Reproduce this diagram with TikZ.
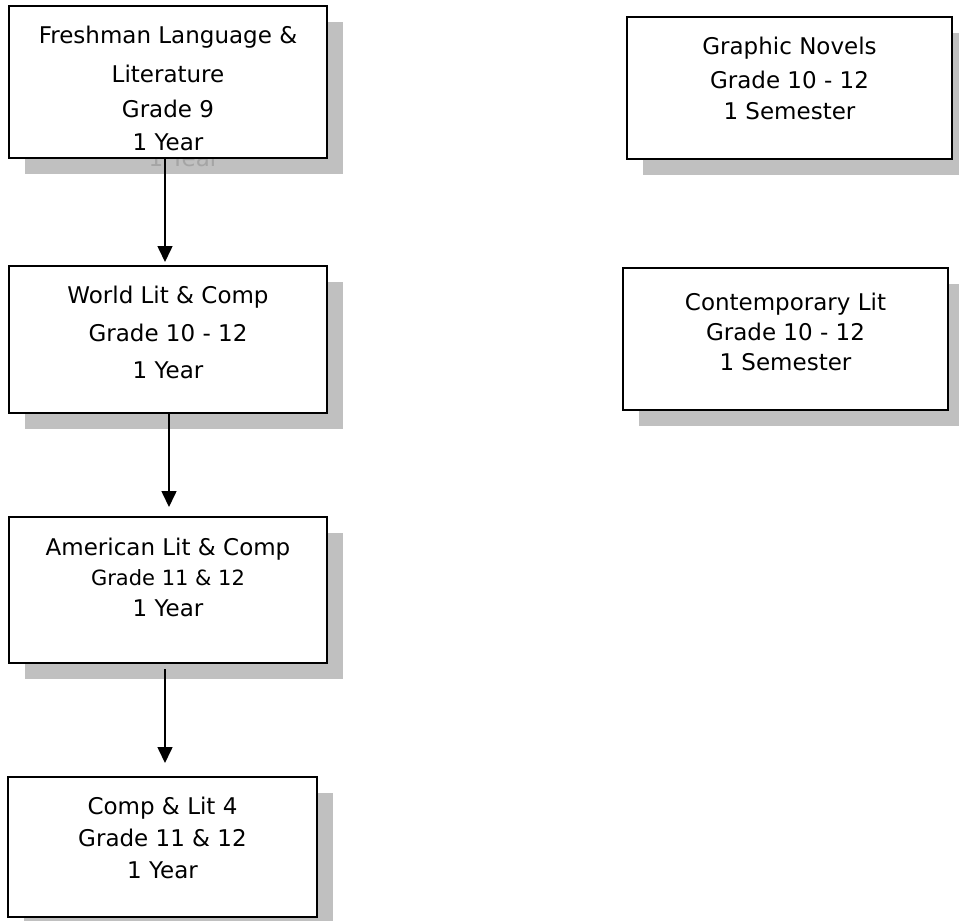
\documentclass[tikz,border=0pt]{standalone}
\usepackage{fontspec}
\setmainfont{DejaVu Sans}
\usetikzlibrary{arrows.meta,backgrounds}
\definecolor{shadowc}{RGB}{192,192,192}
\definecolor{ghostc}{RGB}{165,165,165}
\tikzset{
  course/.style={draw=black, line width=1.8pt, fill=white, inner sep=0pt, outer sep=0pt},
  ctext/.style={align=center, anchor=base, inner sep=0pt, font=\fontsize{23}{32}\selectfont},
  flow/.style={line width=1.6pt, -{Triangle[length=16pt,width=15pt]}},
}
\begin{document}
\begin{tikzpicture}[x=1pt,y=-1pt]
\useasboundingbox (0,0) rectangle (959,921);
\clip (0,0) rectangle (959,921);
% boxes
\node[course, minimum width=318pt, minimum height=152pt] (b1) at (168,82) {};
\node[course, minimum width=318pt, minimum height=147pt] (b2) at (168,339.5) {};
\node[course, minimum width=318pt, minimum height=146pt] (b3) at (168,590) {};
\node[course, minimum width=309pt, minimum height=140pt] (b4) at (162.5,847) {};
\node[course, minimum width=325pt, minimum height=142pt] (b5) at (789.5,88) {};
\node[course, minimum width=325pt, minimum height=142pt] (b6) at (785.5,339) {};
% shadows
\begin{pgfonlayer}{background}
  \foreach \n in {b1,b2,b3,b4,b5,b6}
    \fill[shadowc] ([shift={(15.5,15.5)}]\n.south west) rectangle ([shift={(15.5,15.5)}]\n.north east);
  \node[ctext, text=ghostc] (g1) at (184,166) {1 Year};
\end{pgfonlayer}
% texts (anchor base = baseline of the last line)
\node[ctext] (t1) at (168,150) {Freshman Language \&\\[7.4pt] Literature\\[2.6pt] Grade 9\\[0.7pt] 1 Year};
\node[ctext] (t2) at (168,378.3) {World Lit \& Comp\\[6.4pt] Grade 10 - 12\\[4.6pt] 1 Year};
\node[ctext] (t3) at (168,616) {American Lit \& Comp\\[-1.3pt] {\fontsize{21}{32}\selectfont Grade 11 \& 12}\\[-1.7pt] 1 Year};
\node[ctext] (t4) at (162.5,878.3) {Comp \& Lit 4\\[-0.3pt] Grade 11 \& 12\\[-0.3pt] 1 Year};
\node[ctext] (t5) at (789.5,119.3) {Graphic Novels\\[2pt] Grade 10 - 12\\[-1pt] 1 Semester};
\node[ctext] (t6) at (785.5,370) {Contemporary Lit\\[-2pt] Grade 10 - 12\\[-2pt] 1 Semester};
% arrows
\draw[flow, shorten >=4pt] ([xshift=-3pt]b1.south) -- ([xshift=-3pt]b1.south |- b2.north);
\draw[flow, shorten >=10pt] ([xshift=1pt]b2.south) -- ([xshift=1pt]b2.south |- b3.north);
\draw[flow, shorten <=6pt, shorten >=14pt] ([xshift=-3pt]b3.south) -- ([xshift=-3pt]b3.south |- b4.north);
\end{tikzpicture}
\end{document}
